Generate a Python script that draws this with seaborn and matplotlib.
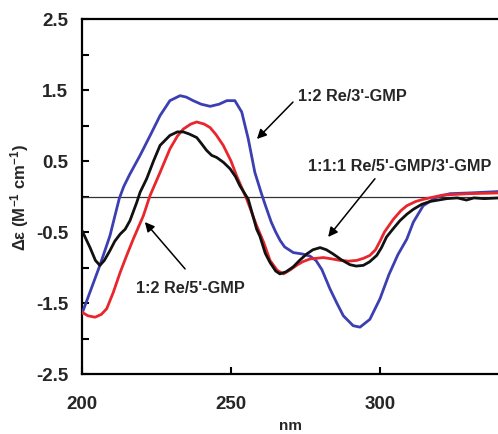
import pandas as pd
import seaborn as sns
import matplotlib.pyplot as plt
from matplotlib.ticker import MultipleLocator

# CD spectra (wavelength in nm, delta epsilon in M-1 cm-1)
nm_3gmp = [200, 203, 206, 209.4, 211, 212.5, 214, 216, 219.5, 223, 226.2, 229.5, 232.9, 235, 237.3,
           240, 243, 246, 248.6, 251.3, 253.6, 255.8, 258, 260.3, 261.5, 263.5, 265, 266.5, 268,
           270.9, 274, 276.5, 278.5, 280.5, 283.2, 285.5, 287.7, 291, 293.3, 296.6, 300, 303, 306, 309,
           311.2, 314.5, 319, 323.5, 330, 340]
de_3gmp = [-1.65, -1.31, -0.97, -0.55, -0.28, -0.03, 0.14, 0.31, 0.58, 0.87, 1.14, 1.35, 1.42, 1.40, 1.35,
           1.30, 1.27, 1.30, 1.35, 1.35, 1.19, 0.81, 0.34, 0.03, -0.12, -0.36, -0.50, -0.62, -0.71,
           -0.79, -0.81, -0.84, -0.90, -1.03, -1.30, -1.50, -1.68, -1.82, -1.84, -1.73, -1.44, -1.10, -0.82, -0.60,
           -0.36, -0.13, -0.01, 0.04, 0.05, 0.07]

nm_5gmp = [200, 202, 204.4, 206.5, 208.3, 210.5, 212.8, 215, 217.2, 220.6, 222.8, 226.2, 229.5,
           232, 234, 236.5, 238.5, 241, 243, 245, 247.4, 250, 251.9, 255.3, 258.6, 261, 263.1,
           265.5, 267.6, 270, 272, 274, 276.5, 281, 284, 286.6, 289.5, 292.2, 294.5, 296.6, 298.5,
           300, 301.5, 304.5, 307, 309, 312, 314.5, 321, 330, 340]
de_5gmp = [-1.63, -1.68, -1.70, -1.66, -1.58, -1.35, -1.07, -0.83, -0.60, -0.27, 0.01, 0.34, 0.67,
           0.85, 0.95, 1.02, 1.05, 1.02, 0.97, 0.87, 0.72, 0.50, 0.29, -0.04, -0.41, -0.65, -0.90,
           -1.04, -1.09, -1.03, -0.97, -0.92, -0.88, -0.86, -0.88, -0.90, -0.91, -0.90, -0.87, -0.83, -0.75,
           -0.63, -0.50, -0.32, -0.20, -0.13, -0.07, -0.04, 0.02, 0.04, 0.05]

nm_mix = [200, 202.7, 204.5, 206, 207.5, 209.4, 211, 212.8, 214.5, 216.1, 218.4, 219.5, 221.7,
          224, 226.2, 229.5, 232, 234, 236, 238.5, 240, 241.8, 243.5, 245.2, 247.5, 249.7, 251.5,
          253, 255.8, 258.6, 259.7, 261.5, 263.1, 265, 266.4, 268.5, 270.9, 273, 275.4, 277.5,
          279.9, 282, 284.3, 287, 289.9, 292, 294.4, 296.5, 298.9, 300.5, 302.2, 304.5, 306.7,
          309, 311.2, 314, 316.8, 322.4, 326, 329, 331.5, 335, 340]
de_mix = [-0.48, -0.72, -0.90, -0.97, -0.90, -0.76, -0.63, -0.53, -0.46, -0.34, -0.08, 0.06, 0.25,
          0.50, 0.72, 0.86, 0.91, 0.91, 0.88, 0.83, 0.75, 0.65, 0.58, 0.55, 0.48, 0.39, 0.28,
          0.15, -0.04, -0.46, -0.56, -0.80, -0.93, -1.05, -1.09, -1.06, -0.99, -0.90, -0.81, -0.75,
          -0.72, -0.75, -0.81, -0.89, -0.96, -0.98, -0.97, -0.92, -0.83, -0.72, -0.57, -0.45, -0.34,
          -0.25, -0.18, -0.11, -0.07, -0.03, -0.02, -0.05, -0.02, -0.03, -0.02]

series = ["1:2 Re/3'-GMP", "1:2 Re/5'-GMP", "1:1:1 Re/5'-GMP/3'-GMP"]
colors = ["#3b3fb2", "#e8262b", "#111111"]


def build_frame():
    parts = []
    for name, x, y in zip(series, [nm_3gmp, nm_5gmp, nm_mix], [de_3gmp, de_5gmp, de_mix]):
        parts.append(pd.DataFrame({"nm": x, "de": y, "sample": name}))
    return pd.concat(parts, ignore_index=True)


def create_plot(df):
    sns.set_style("ticks")
    plt.rcParams['font.family'] = ['Liberation Sans', 'DejaVu Sans']
    plt.rcParams['mathtext.default'] = 'regular'

    fig = plt.figure(figsize=(4.98, 4.35), dpi=100)
    ax = fig.add_axes([82 / 498, 1 - 375 / 435, 416 / 498, 355 / 435])

    ax.axhline(0, color="#333333", lw=0.9, zorder=1)
    sns.lineplot(data=df, x="nm", y="de", hue="sample", palette=dict(zip(series, colors)),
                 estimator=None, sort=True, lw=2.0, legend=False, ax=ax, zorder=3)

    ax.set_xlim(200, 339.6)
    ax.set_ylim(-2.5, 2.5)
    ax.set_xticks([200, 250, 300])
    ax.set_yticks([2.5, 1.5, 0.5, -0.5, -1.5, -2.5])
    ax.set_yticklabels(["2.5", "1.5", "0.5", "-0.5", "-1.5", "-2.5"])
    ax.yaxis.set_minor_locator(MultipleLocator(1.0))
    ax.tick_params(which="both", direction="in", width=1.5, color="black")
    ax.tick_params(axis="y", which="major", length=5, pad=10, labelsize=13.5)
    ax.tick_params(axis="y", which="minor", length=5)
    ax.tick_params(axis="x", which="major", length=5, pad=15, labelsize=13.5)
    for lab in ax.get_xticklabels() + ax.get_yticklabels():
        lab.set_fontweight("bold")

    for side in ["left", "bottom", "top"]:
        ax.spines[side].set_linewidth(1.6)
        ax.spines[side].set_color("black")
    ax.spines["right"].set_visible(False)

    ax.set_xlabel("nm", fontsize=11, fontweight="bold")
    ax.xaxis.label.set_va("center")
    ax.xaxis.set_label_coords(0.5, -0.145)
    ax.set_ylabel("Δε (M$^{-1}$ cm$^{-1}$)", fontsize=12, fontweight="bold")
    ax.yaxis.label.set_va("center")
    ax.yaxis.set_label_coords(-0.149, 0.5)

    arrow = dict(arrowstyle="-|>", color="black", lw=1.1, mutation_scale=14, shrinkA=0, shrinkB=0)
    ax.text(272.5, 1.42, series[0], fontsize=11.7, fontweight="bold", ha="left", va="center")
    ax.annotate("", xy=(258.7, 0.81), xytext=(270.8, 1.33), arrowprops=arrow)
    ax.text(275.8, 0.43, series[2], fontsize=11.7, fontweight="bold", ha="left", va="center")
    ax.annotate("", xy=(282.6, -0.57), xytext=(298.3, 0.25), arrowprops=arrow)
    ax.text(218.1, -1.275, series[1], fontsize=11.7, fontweight="bold", ha="left", va="center")
    ax.annotate("", xy=(221.1, -0.36), xytext=(234.6, -1.02), arrowprops=arrow)

    fig.savefig("out.png", dpi=100)
    plt.close(fig)


def main():
    df = build_frame()
    create_plot(df)


if __name__ == '__main__':
    main()
